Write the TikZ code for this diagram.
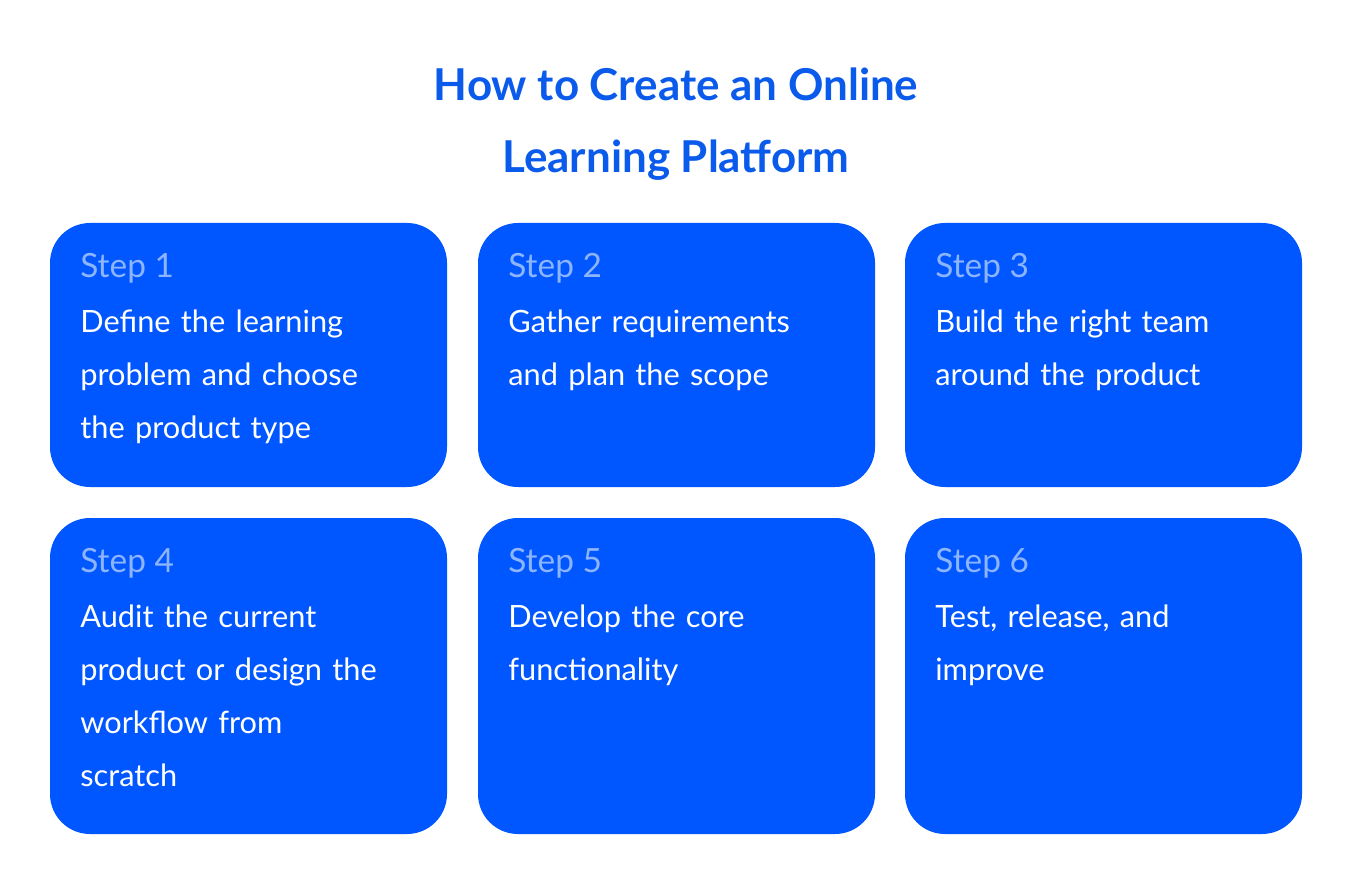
\documentclass[tikz,border=0pt]{standalone}
\usepackage{fontspec}
\setmainfont{Lato}
\usetikzlibrary{positioning}
\definecolor{boxblue}{HTML}{0057FF}
\definecolor{titleblue}{HTML}{0A5AEB}
\definecolor{steplabel}{HTML}{8DB5FF}
\begin{document}
\begin{tikzpicture}[x=0.02cm, y=-0.02cm,
    card/.style={fill=boxblue, rounded corners=0.8cm},
    steptext/.style={anchor=west, text=steplabel, font=\fontsize{19}{22}\selectfont, inner sep=0pt},
    bodytext/.style={anchor=north west, text=white, align=left, inner sep=0pt,
      font=\fontsize{17.5}{30}\selectfont, text width=7.6cm}]

    % Canvas
    \useasboundingbox (0,0) rectangle (1352,878);

    % Title
    \node[text=titleblue, font=\bfseries\fontsize{25}{41}\selectfont, align=center] (title) at (676,124)
        {How to Create an Online\\Learning Platform};

    % Cards
    \foreach \x/\y/\h/\n in {50/223/264/1, 478/223/264/2, 905/223/264/3,
                             50/518/316/4, 478/518/316/5, 905/518/316/6} {
        \fill[card] (\x,\y) rectangle ++(397,\h);
        \node[steptext] (step\n) at (\x+30,\y+45) {Step \n};
    }

    % Texts
    \node[bodytext] (body1) at (80,310) {Define the learning\\problem and choose\\the product type};
    \node[bodytext] (body2) at (508,310) {Gather requirements\\and plan the scope};
    \node[bodytext] (body3) at (935,310) {Build the right team\\around the product};
    \node[bodytext] (body4) at (80,605) {Audit the current\\product or design the\\workflow from\\scratch};
    \node[bodytext] (body5) at (508,605) {Develop the core\\functionality};
    \node[bodytext] (body6) at (935,605) {Test, release, and\\improve};

\end{tikzpicture}
\end{document}
